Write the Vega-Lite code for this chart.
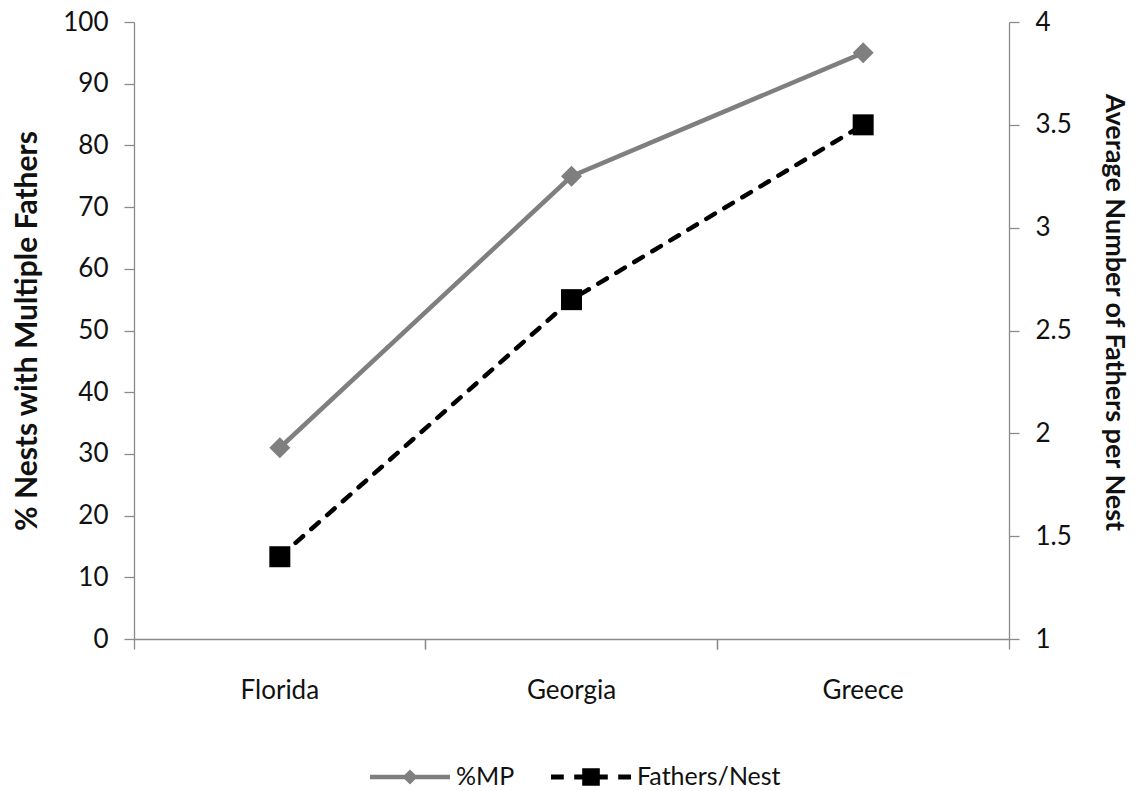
{
  "$schema": "https://vega.github.io/schema/vega-lite/v6.json",
  "width": 875,
  "height": 617,
  "autosize": {"type": "none"},
  "padding": {"left": 134, "top": 22, "right": 128, "bottom": 152},
  "background": "white",
  "config": {
    "font": "Lato",
    "view": {"stroke": null},
    "axis": {
      "grid": false,
      "domainColor": "#8a8a8a",
      "domainWidth": 1.3,
      "tickColor": "#8a8a8a",
      "tickWidth": 1.3,
      "tickSize": 10,
      "labelFont": "Lato",
      "labelFontSize": 26,
      "labelColor": "#111111",
      "titleFont": "Lato",
      "titleFontSize": 30,
      "titleFontWeight": "bold",
      "titleColor": "#111111"
    },
    "legend": {
      "labelFont": "Lato",
      "labelFontSize": 25,
      "labelColor": "#111111",
      "labelOffset": 6,
      "columnPadding": 36,
      "symbolSize": 6400,
      "symbolStrokeWidth": 0,
      "symbolOpacity": 1
    }
  },
  "data": {
    "values": [
      {"site": "Florida", "series": "%MP", "value": 31},
      {"site": "Georgia", "series": "%MP", "value": 75},
      {"site": "Greece", "series": "%MP", "value": 95},
      {"site": "Florida", "series": "Fathers/Nest", "value": 1.4},
      {"site": "Georgia", "series": "Fathers/Nest", "value": 2.65},
      {"site": "Greece", "series": "Fathers/Nest", "value": 3.5}
    ]
  },
  "layer": [
    {
      "transform": [{"filter": "datum.series === '%MP'"}],
      "mark": {"type": "line", "strokeWidth": 4.5, "color": "#7f7f7f"},
      "encoding": {
        "x": {
          "field": "site", "type": "nominal", "sort": null, "bandPosition": 0.5,
          "scale": {"type": "band", "paddingInner": 0, "paddingOuter": 0},
          "axis": {"orient": "bottom", "title": null, "labels": false, "bandPosition": 0, "domain": true, "ticks": true}
        },
        "y": {
          "field": "value", "type": "quantitative",
          "scale": {"domain": [0, 100], "nice": false},
          "axis": {"orient": "left", "values": [0, 10, 20, 30, 40, 50, 60, 70, 80, 90, 100], "labelPadding": 16, "titlePadding": 20, "title": "% Nests with Multiple Fathers"}
        }
      }
    },
    {
      "transform": [{"filter": "datum.series === '%MP'"}],
      "mark": {"type": "point", "shape": "diamond", "filled": true, "size": 441, "opacity": 1, "color": "#7f7f7f"},
      "encoding": {
        "x": {
          "field": "site", "type": "nominal", "sort": null, "bandPosition": 0.5,
          "axis": {"orient": "bottom", "title": null, "labels": false, "bandPosition": 1, "domain": false, "ticks": true}
        },
        "y": {
          "field": "value", "type": "quantitative",
          "scale": {"domain": [0, 100], "nice": false},
          "axis": null
        }
      }
    },
    {
      "transform": [{"filter": "datum.series === 'Fathers/Nest'"}],
      "mark": {"type": "line", "strokeWidth": 4.5, "strokeDash": [10, 11], "strokeCap": "round", "color": "#000000"},
      "encoding": {
        "x": {
          "field": "site", "type": "nominal", "sort": null, "bandPosition": 0.5,
          "axis": {"orient": "bottom", "title": null, "labels": true, "labelAngle": 0, "domain": false, "ticks": false, "tickSize": 0, "labelPadding": 38}
        },
        "y": {
          "field": "value", "type": "quantitative",
          "scale": {"domain": [1, 4], "nice": false},
          "axis": {"orient": "right", "values": [1, 1.5, 2, 2.5, 3, 3.5, 4], "format": ".1~f", "labelPadding": 16, "titlePadding": 28, "titleFontSize": 27, "titleY": 290, "title": "Average Number of Fathers per Nest"}
        }
      }
    },
    {
      "transform": [{"filter": "datum.series === 'Fathers/Nest'"}],
      "mark": {"type": "point", "shape": "square", "filled": true, "size": 441, "opacity": 1, "color": "#000000"},
      "encoding": {
        "x": {
          "field": "site", "type": "nominal", "sort": null, "bandPosition": 0.5,
          "axis": null
        },
        "y": {
          "field": "value", "type": "quantitative",
          "scale": {"domain": [1, 4], "nice": false},
          "axis": null
        }
      }
    },
    {
      "transform": [{"filter": "false"}],
      "mark": {"type": "point", "filled": true, "size": 6400, "opacity": 1, "strokeWidth": 0},
      "encoding": {
        "x": {"field": "site", "type": "nominal", "sort": null, "axis": null},
        "y": {"field": "value", "type": "quantitative", "scale": {"domain": [0, 100]}, "axis": null},
        "fill": {
          "field": "series", "type": "nominal",
          "scale": {"domain": ["%MP", "Fathers/Nest"], "range": ["#7f7f7f", "#000000"]},
          "legend": {"orient": "none", "legendX": 236, "legendY": 715, "direction": "horizontal", "title": null}
        },
        "shape": {
          "field": "series", "type": "nominal",
          "scale": {
            "domain": ["%MP", "Fathers/Nest"],
            "range": [
              "M-1,-0.055H1V0.055H-1Z M0,-0.19L0.19,0L0,0.19L-0.19,0Z",
              "M-1,-0.06H-0.68V0.06H-1Z M-0.42,-0.06H-0.22V-0.22H0.22V-0.06H0.42V0.06H0.22V0.22H-0.22V0.06H-0.42Z M0.68,-0.06H1V0.06H0.68Z"
            ]
          },
          "legend": {"orient": "none", "legendX": 236, "legendY": 715, "direction": "horizontal", "title": null}
        }
      }
    }
  ],
  "resolve": {
    "scale": {"y": "independent"},
    "axis": {"x": "independent", "y": "independent"}
  }
}
